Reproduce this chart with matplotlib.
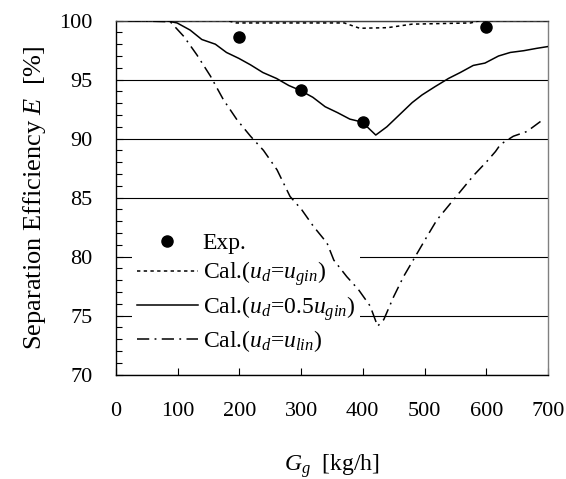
import matplotlib
matplotlib.use("Agg")
import matplotlib.pyplot as plt
from matplotlib.ticker import MultipleLocator

plt.rcParams['font.family'] = ['Liberation Serif', 'DejaVu Serif']
plt.rcParams['mathtext.fontset'] = 'custom'
plt.rcParams['mathtext.rm'] = 'Liberation Serif'
plt.rcParams['mathtext.it'] = 'Liberation Serif:italic'

# experiment
exp_x = [200, 300, 400, 600]
exp_y = [98.65, 94.1, 91.4, 99.45]

# Cal.(ud = ugin)
gin_x = [20, 180, 195, 370, 395, 440, 480, 575, 590, 700]
gin_y = [100, 100, 99.8, 99.8, 99.35, 99.4, 99.7, 99.8, 100, 100]

# Cal.(ud = 0.5 ugin)
half_x = [20, 80, 99, 120, 139, 161, 179, 199, 218, 238, 260, 280, 298, 319,
          339, 359, 379, 399, 421, 439, 459, 480, 496, 517, 539, 558, 579,
          598, 620, 639, 661, 682, 700]
half_y = [100, 100, 99.8, 99.2, 98.4, 98.0, 97.3, 96.8, 96.25, 95.6, 95.1,
          94.5, 94.1, 93.5, 92.7, 92.2, 91.65, 91.4, 90.3, 91.0, 92.0, 93.05,
          93.7, 94.4, 95.1, 95.6, 96.2, 96.4, 97.0, 97.3, 97.45, 97.65, 97.8]

# Cal.(ud = ulin)
lin_x = [20, 88, 110, 131, 153, 174, 196, 218, 239, 261, 282, 301, 320, 342,
         353, 374, 393, 412, 424, 434, 450, 466, 485, 504, 520, 542, 561, 580,
         601, 615, 623, 644, 666, 688]
lin_y = [100, 99.9, 98.65, 97.1, 95.3, 93.3, 91.6, 90.2, 89.0, 87.35, 85.1,
         83.97, 82.56, 81.15, 79.7, 78.3, 77.2, 75.8, 74.1, 74.66, 76.6, 78.3,
         80.0, 81.7, 83.1, 84.5, 85.7, 86.9, 88.06, 88.9, 89.5, 90.2, 90.6,
         91.45]

fig = plt.figure(figsize=(5.66, 4.79), dpi=100)
ax = fig.add_axes([0.205, 0.218, 0.763, 0.739])

ax.yaxis.grid(True, which='major', color='black', linewidth=0.8, zorder=0.5)
ax.set_axisbelow(True)

ax.plot(exp_x, exp_y, 'o', color='black', markersize=8, label='Exp.', zorder=5)
ax.plot(gin_x, gin_y, color='black', linewidth=1.1, linestyle=(0, (2.2, 2.2)),
        label=r'Cal.($u_d$=$u_{gin}$)', zorder=3)
ax.plot(half_x, half_y, color='black', linewidth=1.1, linestyle='-',
        label=r'Cal.($u_d$=0.5$u_{gin}$)', zorder=3)
ax.plot(lin_x, lin_y, color='black', linewidth=1.1,
        linestyle=(0, (8, 3.5, 1.2, 3.5)), label=r'Cal.($u_d$=$u_{lin}$)',
        zorder=3)

ax.set_xlim(0, 700)
ax.set_ylim(70, 100)
ax.xaxis.set_major_locator(MultipleLocator(100))
ax.yaxis.set_major_locator(MultipleLocator(5))
ax.yaxis.set_minor_locator(MultipleLocator(1))
ax.tick_params(axis='both', which='both', direction='in', labelsize=16,
               top=False, right=False, width=0.8)
ax.tick_params(axis='x', pad=20)
ax.tick_params(axis='y', pad=17)
ax.tick_params(which='major', length=5)
ax.tick_params(which='minor', length=4)

ax.spines['right'].set_color('#808080')
ax.spines['top'].set_color('#404040')
for s in ax.spines.values():
    s.set_linewidth(1.0)

ax.set_xlabel(r'$G_g$  [kg/h]', fontsize=17, labelpad=22)
ax.set_ylabel(r'Separation Efficiency $E$  [%]', fontsize=19, labelpad=8)

leg = ax.legend(loc='upper left', bbox_to_anchor=(0.037, 0.415), fontsize=17,
                frameon=True, fancybox=False, edgecolor='none',
                facecolor='white', framealpha=1, borderpad=0.2,
                handlelength=2.6, handletextpad=0.2, labelspacing=0.24,
                borderaxespad=0)
leg.set_zorder(1)

fig.savefig('out.png', dpi=100)
